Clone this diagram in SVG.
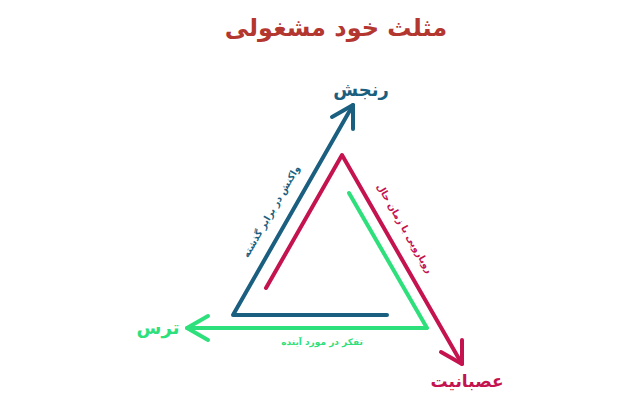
<svg xmlns="http://www.w3.org/2000/svg" width="640" height="400" viewBox="0 0 640 400">
<style>
.t{font-family:"DejaVu Sans","Noto Sans",sans-serif;font-weight:bold;text-anchor:middle}
.ln{fill:none;stroke-width:4;stroke-linecap:round;stroke-linejoin:round}
.blue{stroke:#1b5f80}
.red{stroke:#c4134f}
.green{stroke:#2ee07b}
</style>
<rect width="640" height="400" fill="#ffffff"/>
<text class="t" x="336" y="36" font-size="24" fill="#b3362f">مثلث خود مشغولی</text>
<g id="connectors">
<path class="ln blue" d="M387,315 L233,315 L353,105"/>
<path class="ln blue" d="M332,117 L353,105 L353,129"/>
<path class="ln red" d="M266,288 L342,155 L462,364"/>
<path class="ln red" d="M441,352 L462,364 L462,340"/>
<path class="ln green" d="M349,193 L427,328 L187,328"/>
<path class="ln green" d="M208,316 L187,328 L208,340"/>
</g>
<g id="node-ranjesh"><text class="t" x="361" y="96" font-size="18" fill="#1b5f80">رنجش</text></g>
<g id="node-tars"><text class="t" x="158" y="334" font-size="18" fill="#2ee07b">ترس</text></g>
<g id="node-asabaniyat"><text class="t" x="467" y="387" font-size="17" fill="#c4134f">عصبانیت</text></g>
<g id="label-past"><text class="t" transform="translate(274,213) rotate(-60)" font-size="9.5" fill="#1b5f80">واکنش در برابر گذشته</text></g>
<g id="label-present"><text class="t" transform="translate(402,230) rotate(60)" font-size="9.5" fill="#c4134f">رویارویی با زمان حال</text></g>
<g id="label-future"><text class="t" x="322" y="345" font-size="9" fill="#2ee07b">تفکر در مورد آینده</text></g>
</svg>
